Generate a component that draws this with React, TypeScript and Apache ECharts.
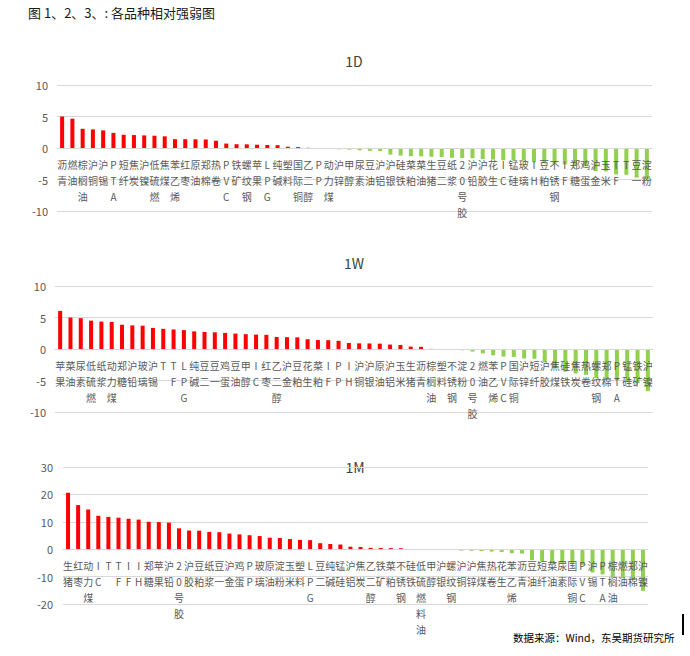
import React, { useEffect, useRef } from "react";
import * as echarts from "echarts";

const chartTitle = "图 1、2、3、: 各品种相对强弱图";
const sourceText = "数据来源：Wind，东吴期货研究所";
const panelTitles = ["1D", "1W", "1M"];

const d1Names = ["沥青","燃油","棕榈油","沪铜","沪锡","PTA","短纤","焦炭","沪镍","低硫燃","焦煤","苯乙烯","红枣","原油","郑棉","热卷","PVC","铁矿","螺纹钢","苹果","LPG","纯碱","塑料","国际铜","乙二醇","PP","动力煤","沪锌","甲醇","尿素","豆油","沪铝","沪银","硅铁","菜粕","菜油","生猪","豆二","纸浆","20号胶","沪铅","沪胶","花生","IC","锰硅","玻璃","IH","豆粕","不锈钢","IF","郑糖","鸡蛋","沪金","玉米","TF","T","豆一","淀粉"];
const d1Values = [5.0,4.65,3.05,2.95,2.8,2.4,2.1,2.05,2.0,1.95,1.85,1.4,1.4,1.38,1.35,1.15,0.7,0.6,0.58,0.5,0.48,0.45,0.2,0.15,0.03,-0.12,-0.15,-0.2,-0.26,-0.37,-0.45,-0.48,-1.05,-1.2,-1.3,-1.32,-1.4,-1.42,-1.55,-1.6,-1.62,-1.75,-1.85,-1.95,-1.97,-2.0,-2.25,-2.45,-2.5,-2.6,-2.8,-2.9,-3.65,-3.7,-4.2,-4.25,-4.7,-5.0];

const w1Names = ["苹果","菜油","尿素","低硫燃","纸浆","动力煤","郑糖","沪铅","玻璃","沪锡","T","TF","LPG","纯碱","豆二","豆一","鸡蛋","豆油","甲醇","IC","红枣","乙二醇","沪金","豆粕","花生","菜粕","IF","PP","IH","沪铜","沪银","原油","沪铝","玉米","生猪","沥青","棕榈油","塑料","不锈钢","淀粉","20号胶","燃油","苯乙烯","PVC","国际铜","沪锌","短纤","沪胶","焦煤","硅铁","焦炭","热卷","螺纹钢","郑棉","PTA","锰硅","铁矿","沪镍"];
const w1Values = [6.05,5.0,4.9,4.5,4.35,4.3,3.85,3.75,3.7,3.35,3.2,3.1,3.0,2.8,2.7,2.65,2.55,2.45,2.35,2.28,2.25,1.9,1.88,1.85,1.55,1.42,1.4,1.3,0.95,0.9,0.88,0.85,0.7,0.65,0.38,0.35,0.02,0.0,-0.03,-0.2,-0.4,-0.7,-1.0,-1.2,-1.25,-1.5,-1.55,-2.1,-3.1,-3.6,-3.9,-4.1,-4.6,-4.8,-4.95,-5.2,-5.4,-6.7];

const m1Names = ["生猪","红枣","动力煤","IC","T","TF","IF","IH","郑糖","苹果","沪铅","20号胶","沪胶","豆粕","纸浆","豆一","沪金","鸡蛋","PP","玻璃","原油","淀粉","玉米","塑料","LPG","豆二","纯碱","锰硅","沪铝","焦炭","乙二醇","铁矿","菜粕","不锈钢","硅铁","低硫燃料油","甲醇","沪银","螺纹钢","沪铜","沪锌","焦煤","热卷","花生","苯乙烯","沥青","豆油","短纤","菜油","尿素","国际铜","PVC","沪锡","PTA","棕榈油","燃油","郑棉","沪镍"];
const m1Values = [20.6,16.1,14.5,12.2,11.8,11.5,11.1,10.8,10.0,9.9,9.7,7.6,6.8,6.75,6.3,6.2,5.7,5.4,5.1,4.8,4.2,4.1,3.7,3.4,3.3,2.2,1.9,1.7,0.9,0.8,0.5,0.45,0.4,0.35,0.05,0.02,-0.02,-0.05,-0.1,-0.5,-0.6,-0.7,-0.85,-1.0,-1.45,-1.6,-4.0,-4.5,-5.0,-5.1,-5.2,-5.8,-8.5,-9.2,-10.2,-10.6,-11.2,-15.2];

const yRanges = [
  { min: -10, max: 10, interval: 5 },
  { min: -10, max: 10, interval: 5 },
  { min: -20, max: 30, interval: 10 },
];

const FONT = "'Noto Sans CJK SC', 'Noto Sans', sans-serif";

export default function App() {
  const ref = useRef<HTMLDivElement>(null);
  useEffect(() => {
    document.body.style.margin = "0";
    const chart = echarts.init(ref.current!, undefined, { renderer: "svg" });
    const names = [d1Names, w1Names, m1Names];
    const values = [d1Values, w1Values, m1Values];
    const grids = [
      { left: 57, top: 85, width: 595, height: 126 },
      { left: 55, top: 286, width: 598, height: 126 },
      { left: 63, top: 467, width: 585, height: 137 },
    ];
    const titlePos = [
      [354, 61],
      [354, 263],
      [355, 467],
    ];
    const option: any = {
      animation: false,
      backgroundColor: "#ffffff",
      textStyle: { fontFamily: FONT },
      grid: grids.map((g) => ({ ...g, containLabel: false, outerBoundsMode: "none" })),
      xAxis: names.map((n, i) => {
        const r = yRanges[i];
        const zeroOffset = -(grids[i].height * (0 - r.min)) / (r.max - r.min);
        return {
          type: "category",
          gridIndex: i,
          data: n,
          z: 3,
          position: "bottom",
          offset: zeroOffset,
          axisLine: { show: true, onZero: false, lineStyle: { color: "#D9D9D9", width: 1 } },
          axisTick: { show: false },
          axisLabel: {
            interval: 0,
            margin: 8,
            fontSize: 10,
            lineHeight: 16,
            color: "#595959",
            fontFamily: FONT,
            hideOverlap: false,
            formatter: (v: string) => v.split("").join("\n"),
          },
        };
      }),
      yAxis: yRanges.map((r, i) => ({
        type: "value",
        gridIndex: i,
        min: r.min,
        max: r.max,
        interval: r.interval,
        axisLine: { show: false },
        axisTick: { show: false },
        axisLabel: { fontSize: 11, color: "#595959", margin: i === 2 ? 10 : 9, fontFamily: FONT },
        splitLine: { lineStyle: { color: "#D9D9D9", width: 1 } },
      })),
      series: values.map((v, i) => ({
        type: "bar",
        xAxisIndex: i,
        yAxisIndex: i,
        data: v,
        barWidth: 4,
        itemStyle: {
          color: (p: any) => (p.value >= 0 ? "#FF0000" : "#92D050"),
        },
      })),
      graphic: [
        {
          type: "text",
          x: 28,
          y: 12,
          style: {
            text: chartTitle,
            fontSize: 13,
            fontWeight: "normal",
            fill: "#1a1a1a",
            fontFamily: FONT,
            verticalAlign: "middle",
            align: "left",
          },
        },
        ...panelTitles.map((t, i) => ({
          type: "text",
          x: titlePos[i][0],
          y: titlePos[i][1],
          style: {
            text: t,
            fontSize: 14,
            fill: "#404040",
            fontFamily: FONT,
            align: "center",
            verticalAlign: "middle",
          },
        })),
        {
          type: "text",
          x: 513,
          y: 637,
          style: {
            text: sourceText,
            fontSize: 10.5,
            fill: "#000000",
            fontFamily: FONT,
            verticalAlign: "middle",
            align: "left",
          },
        },
        {
          type: "rect",
          shape: { x: 682, y: 614, width: 2, height: 21 },
          style: { fill: "#000000" },
        },
      ],
    };
    chart.setOption(option);
    return () => chart.dispose();
  }, []);
  return <div ref={ref} style={{ width: 690, height: 656 }} />;
}
